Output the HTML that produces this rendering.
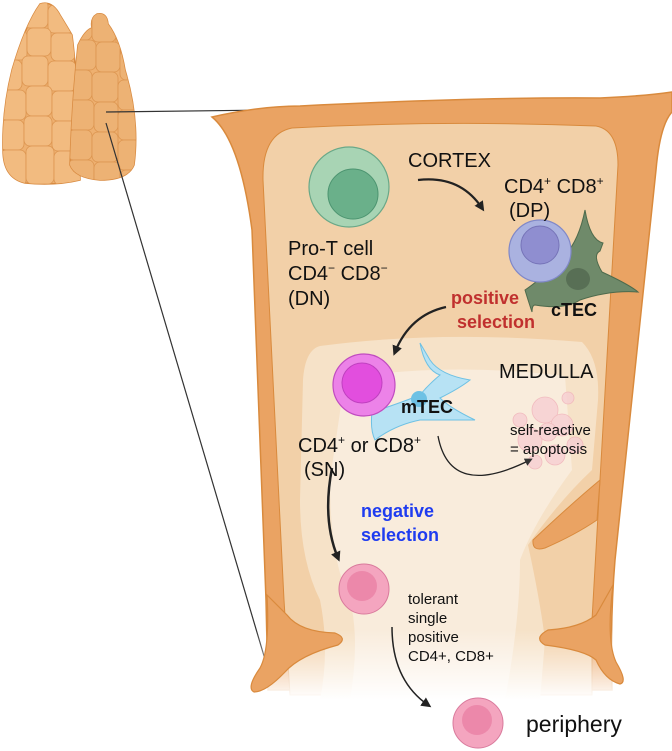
<!DOCTYPE html>
<html><head><meta charset="utf-8"><style>
html,body{margin:0;padding:0;background:#fff;}
svg{display:block;font-family:"Liberation Sans",sans-serif;}
</style></head><body>
<svg width="672" height="751" viewBox="0 0 672 751" xmlns="http://www.w3.org/2000/svg">
<defs>
<marker id="ah" markerWidth="10" markerHeight="10" refX="6" refY="5" orient="auto" markerUnits="userSpaceOnUse">
<path d="M0,0 L10,5 L0,10 Z" fill="#222"/></marker>
<marker id="ahs" markerWidth="8" markerHeight="8" refX="5" refY="4" orient="auto" markerUnits="userSpaceOnUse">
<path d="M0,0 L8,4 L0,8 Z" fill="#333"/></marker>
<linearGradient id="fade" x1="0" y1="0" x2="0" y2="1"><stop offset="0" stop-color="#fff" stop-opacity="0"/><stop offset="1" stop-color="#fff" stop-opacity="1"/></linearGradient>
<clipPath id="lc"><path d="M40,4 Q52,0 60,15 Q68,28 72,35 Q78,80 80,180 Q55,186 25,183 Q3,178 3,150 Q2,110 12,70 Q25,25 40,4Z"/></clipPath>
<clipPath id="rc"><path d="M97,14 Q107,12 108,24 Q120,40 125,70 Q140,120 134,165 Q128,180 100,180 Q75,178 70,165 Q72,100 78,45 Q85,30 92,28 Q90,18 97,14Z"/></clipPath>
</defs>
<!-- thyroid lobes -->
<g>
<path d="M40,4 Q52,0 60,15 Q68,28 72,35 Q78,80 80,180 Q55,186 25,183 Q3,178 3,150 Q2,110 12,70 Q25,25 40,4Z" fill="#eeb070" stroke="#d88a40" stroke-width="1.5"/>
<g clip-path="url(#lc)" fill="#f2bb80" stroke="#dc9550" stroke-width="0.8">
<rect x="0" y="0" width="24" height="30" rx="6"/><rect x="24" y="0" width="24" height="28" rx="6"/><rect x="48" y="5" width="26" height="28" rx="6"/>
<rect x="5" y="30" width="22" height="30" rx="6"/><rect x="27" y="28" width="24" height="28" rx="6"/><rect x="51" y="33" width="24" height="28" rx="6"/>
<rect x="0" y="60" width="22" height="30" rx="6"/><rect x="22" y="56" width="26" height="30" rx="6"/><rect x="48" y="61" width="28" height="30" rx="6"/>
<rect x="0" y="90" width="26" height="30" rx="6"/><rect x="26" y="86" width="26" height="30" rx="6"/><rect x="52" y="91" width="26" height="30" rx="6"/>
<rect x="0" y="120" width="24" height="30" rx="6"/><rect x="24" y="116" width="28" height="30" rx="6"/><rect x="52" y="121" width="28" height="30" rx="6"/>
<rect x="0" y="150" width="26" height="36" rx="6"/><rect x="26" y="146" width="28" height="38" rx="6"/><rect x="54" y="151" width="28" height="34" rx="6"/>
</g>
<path d="M97,14 Q107,12 108,24 Q120,40 125,70 Q140,120 134,165 Q128,180 100,180 Q75,178 70,165 Q72,100 78,45 Q85,30 92,28 Q90,18 97,14Z" fill="#eeb070" stroke="#d88a40" stroke-width="1.5"/>
<g clip-path="url(#rc)" fill="#edb274" stroke="#dc9550" stroke-width="0.8">
<rect x="70" y="10" width="22" height="30" rx="6"/><rect x="92" y="12" width="24" height="30" rx="6"/><rect x="116" y="20" width="24" height="30" rx="6"/>
<rect x="70" y="40" width="26" height="30" rx="6"/><rect x="96" y="42" width="24" height="30" rx="6"/><rect x="120" y="50" width="20" height="30" rx="6"/>
<rect x="68" y="70" width="24" height="30" rx="6"/><rect x="92" y="72" width="26" height="30" rx="6"/><rect x="118" y="80" width="22" height="30" rx="6"/>
<rect x="68" y="100" width="26" height="30" rx="6"/><rect x="94" y="102" width="24" height="30" rx="6"/><rect x="118" y="110" width="22" height="30" rx="6"/>
<rect x="68" y="130" width="24" height="30" rx="6"/><rect x="92" y="132" width="26" height="30" rx="6"/><rect x="118" y="140" width="22" height="30" rx="6"/>
<rect x="68" y="160" width="26" height="25" rx="6"/><rect x="94" y="162" width="26" height="25" rx="6"/><rect x="120" y="170" width="22" height="25" rx="6"/>
</g>
</g>
<!-- connector lines -->
<line x1="106" y1="112" x2="272" y2="110" stroke="#333" stroke-width="1.2"/>
<line x1="106" y1="123" x2="272" y2="683" stroke="#333" stroke-width="1.2"/>
<!-- capsule -->
<path d="M212,117 Q260,106 300,106 Q480,97 600,98 Q645,96 672,92 L672,112 Q660,125 656,170 L615,560 Q610,620 612,690 L268,690 L266,600 L252,230 Q240,140 212,117Z" fill="#eaa363" stroke="#d98a3d" stroke-width="1.5"/>
<!-- cortex -->
<path d="M292,128 Q440,120 596,126 Q618,130 618,165 L592,620 L592,695 L290,695 L284,600 L263,180 Q262,134 292,128Z" fill="#f2d0a8" stroke="#d98a3d" stroke-width="1"/>
<!-- medulla -->
<path d="M320,346 Q440,330 582,342 Q600,360 598,400 L592,470 Q560,500 528,545 Q540,600 545,640 L540,700 L320,700 Q330,650 320,600 Q300,560 300,500 L303,380 Q305,350 320,346Z" fill="#f6e2c8"/>
<path d="M345,378 Q450,362 565,376 L572,470 Q535,520 520,560 Q520,620 505,700 L350,700 Q360,640 350,600 Q330,560 330,480Z" fill="#f9ecdc"/>
<!-- apoptosis blob -->
<g fill="#f7cfd3" stroke="#f0b0b8" stroke-width="0.8" opacity="0.8">
<circle cx="545" cy="410" r="13"/><circle cx="562" cy="425" r="11"/><circle cx="530" cy="440" r="12"/><circle cx="555" cy="455" r="10"/><circle cx="575" cy="445" r="8"/><circle cx="535" cy="462" r="7"/><circle cx="568" cy="398" r="6"/><circle cx="520" cy="420" r="7"/><circle cx="548" cy="432" r="9"/>
</g>
<!-- bottom fade -->
<rect x="200" y="630" width="472" height="70" fill="url(#fade)"/>
<rect x="200" y="699" width="472" height="52" fill="#fff"/>
<!-- feet and septa -->
<path d="M267,595 Q270,650 260,668 Q246,688 254,692 Q266,692 285,672 Q300,655 338,645 Q348,638 335,633 Q300,632 287,615Z" fill="#eaa363" stroke="#d98a3d" stroke-width="1.2"/>
<path d="M613,585 Q606,640 616,662 Q628,682 620,684 Q605,680 596,660 Q585,650 545,645 Q533,638 548,630 Q580,628 596,615Z" fill="#eaa363" stroke="#d98a3d" stroke-width="1.2"/>
<path d="M600,480 Q570,505 533,540 Q532,552 545,548 Q575,535 597,520Z" fill="#eaa363" stroke="#d98a3d" stroke-width="1"/>
<!-- DN cell -->
<circle cx="349" cy="187" r="40" fill="#a8d4b4" stroke="#6aa888" stroke-width="1.2"/>
<circle cx="353" cy="194" r="25" fill="#6ab08a" stroke="#4c9470" stroke-width="1"/>
<!-- cTEC -->
<path d="M585,210 Q590,240 603,243 L600,251 Q592,255 602,272 Q630,285 638,292 Q610,290 580,300 Q565,310 535,305 Q532,305 532,312 Q528,300 525,290 Q540,280 560,260 Q578,245 585,210Z" fill="#6f8a6a" stroke="#4e6a4c" stroke-width="1"/>
<ellipse cx="578" cy="279" rx="12" ry="11" fill="#586f55"/>
<!-- DP cell -->
<circle cx="540" cy="251" r="31" fill="#aab2e0" stroke="#8088c8" stroke-width="1.2"/>
<circle cx="540" cy="245" r="19" fill="#8f8ed0" stroke="#7674b8" stroke-width="1"/>
<!-- mTEC -->
<path d="M420,343 Q425,370 440,375 Q428,385 420,395 Q395,405 372,412 Q370,430 375,440 Q395,425 420,420 Q445,420 475,420 Q450,408 440,398 Q460,388 470,380 Q440,375 430,360Z" fill="#b7e2f4" stroke="#6ec1e4" stroke-width="1"/>
<circle cx="419" cy="399" r="8" fill="#6ec1e4"/>
<!-- SN cell -->
<circle cx="364" cy="385" r="31" fill="#ec82e8" stroke="#c04cc0" stroke-width="1.2"/>
<circle cx="362" cy="383" r="20" fill="#e24ede" stroke="#c040c0" stroke-width="1"/>
<!-- tolerant cell -->
<circle cx="364" cy="589" r="25" fill="#f4a5bf" stroke="#d97a9c" stroke-width="1"/>
<circle cx="362" cy="586" r="15" fill="#ec88aa"/>
<!-- periphery cell -->
<circle cx="478" cy="723" r="25" fill="#f4a5bf" stroke="#d97a9c" stroke-width="1"/>
<circle cx="477" cy="720" r="15" fill="#ec88aa"/>
<!-- arrows -->
<path d="M418,180 Q460,175 482,208" fill="none" stroke="#222" stroke-width="2.2" marker-end="url(#ah)"/>
<path d="M446,307 Q410,315 395,352" fill="none" stroke="#222" stroke-width="2.2" marker-end="url(#ah)"/>
<path d="M332,468 Q322,520 338,558" fill="none" stroke="#222" stroke-width="2.5" marker-end="url(#ah)"/>
<path d="M438,436 Q450,500 530,460" fill="none" stroke="#222" stroke-width="1.3" marker-end="url(#ahs)"/>
<path d="M392,627 Q392,680 428,705" fill="none" stroke="#222" stroke-width="1.5" marker-end="url(#ah)"/>
<!-- text -->
<g fill="#111" font-size="20">
<text x="408" y="167">CORTEX</text>
<text x="504" y="193">CD4<tspan font-size="12" dy="-8">+</tspan><tspan dy="8"> CD8</tspan><tspan font-size="12" dy="-8">+</tspan></text>
<text x="509" y="217">(DP)</text>
<text x="288" y="255">Pro-T cell</text>
<text x="288" y="280">CD4<tspan font-size="12" dy="-8">−</tspan><tspan dy="8"> CD8</tspan><tspan font-size="12" dy="-8">−</tspan></text>
<text x="288" y="305">(DN)</text>
<text x="499" y="378">MEDULLA</text>
<text x="298" y="452">CD4<tspan font-size="12" dy="-8">+</tspan><tspan dy="8"> or CD8</tspan><tspan font-size="12" dy="-8">+</tspan></text>
<text x="304" y="476">(SN)</text>
<text x="526" y="732" font-size="23">periphery</text>
</g>
<g fill="#111" font-size="15">
<text x="510" y="435">self-reactive</text>
<text x="510" y="454">= apoptosis</text>
<text x="408" y="604">tolerant</text>
<text x="408" y="623">single</text>
<text x="408" y="642">positive</text>
<text x="408" y="661">CD4+, CD8+</text>
</g>
<g font-weight="bold" font-size="18">
<text x="451" y="304" fill="#c0302e">positive</text>
<text x="457" y="328" fill="#c0302e">selection</text>
<text x="551" y="316" fill="#111">cTEC</text>
<text x="401" y="413" fill="#111">mTEC</text>
<text x="361" y="517" fill="#1f3cf0">negative</text>
<text x="361" y="541" fill="#1f3cf0">selection</text>
</g>
</svg>
</body></html>
